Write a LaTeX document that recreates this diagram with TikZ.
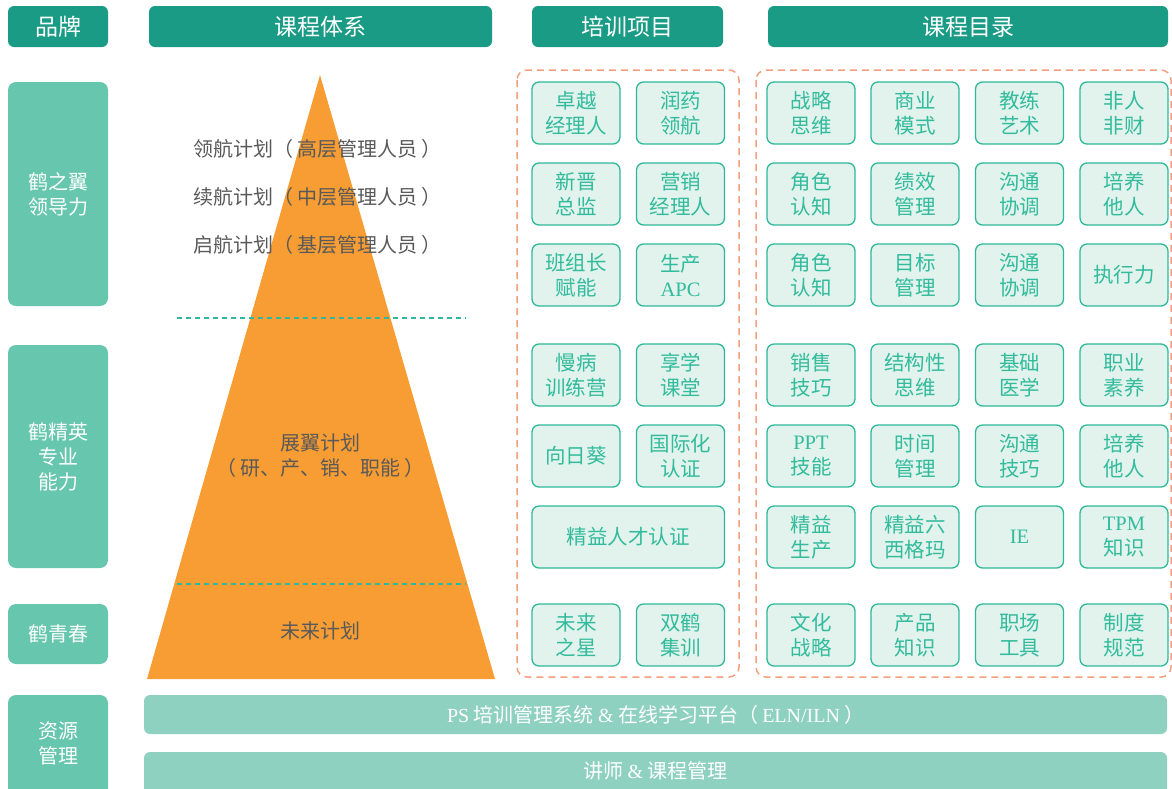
\documentclass[tikz,border=0pt]{standalone}
\usepackage{fontspec}
\setmainfont{Noto Sans CJK SC}
\newfontfamily\lat{Liberation Serif}
\definecolor{hdrc}{HTML}{1A9B85}
\definecolor{brandc}{HTML}{66C6AE}
\definecolor{barc}{HTML}{8FD1C1}
\definecolor{itemfill}{HTML}{E1F3EC}
\definecolor{itemline}{HTML}{2EB898}
\definecolor{itemtext}{HTML}{32BB9C}
\definecolor{framec}{HTML}{F2A080}
\definecolor{pyrc}{HTML}{F79D33}
\definecolor{grayt}{HTML}{595959}
\definecolor{sepc}{HTML}{2DB8A0}
\newcommand{\lp}{（\hspace{4pt}}
\newcommand{\rp}{\hspace{4pt}）}
\tikzset{
  hdr/.style={fill=hdrc, rounded corners=6pt, text=white, inner sep=0pt,
    minimum height=41pt, font=\fontsize{23}{27}\selectfont},
  brand/.style={fill=brandc, rounded corners=8pt, text=white, inner sep=0pt,
    align=center, font=\fontsize{20}{25}\selectfont},
  item/.style={fill=itemfill, draw=itemline, line width=1.3pt, rounded corners=7pt,
    text=itemtext, inner sep=0pt, minimum width=88pt, minimum height=62pt,
    align=center, font=\fontsize{20.5}{25}\selectfont},
  bar/.style={fill=barc, rounded corners=6pt, text=white, inner sep=0pt,
    font=\fontsize{20}{24}\selectfont},
  frame/.style={draw=framec, line width=1.5pt, dash pattern=on 7pt off 5pt, rounded corners=10pt},
  sep/.style={draw=sepc, line width=2pt, dash pattern=on 5pt off 4pt},
  pyrtext/.style={text=grayt, font=\fontsize{20}{25}\selectfont, align=center, inner sep=0pt}
}
\begin{document}
\begin{tikzpicture}[x=1pt,y=-1pt]
\useasboundingbox (0,0) rectangle (1172,788);
\clip (0,0) rectangle (1172,788);
% headers
\node[hdr, minimum width=100pt] (hbrand) at (58,26.5) {品牌};
\node[hdr, minimum width=343pt] (hsys) at (320.5,26.5) {课程体系};
\node[hdr, minimum width=191pt] (hproj) at (627.5,26.5) {培训项目};
\node[hdr, minimum width=400pt] (hcat) at (968,26.5) {课程目录};
% brand column
\node[brand, minimum width=100pt, minimum height=224pt] (b1) at (58,194) {鹤之翼\\领导力};
\node[brand, minimum width=100pt, minimum height=223pt] (b2) at (58,456.5) {鹤精英\\专业\\能力};
\node[brand, minimum width=100pt, minimum height=60pt] (b3) at (58,634) {鹤青春};
\node[brand, minimum width=100pt, minimum height=110pt] (b4) at (58,750) {};
\node[brand, fill=none] (b4t) at (58,743) {资源\\管理};
% pyramid
\fill[pyrc] (320,75) -- (495,679) -- (147,679) -- cycle;
\coordinate (s1a) at (177,318); \coordinate (s1b) at (466,318);
\coordinate (s2a) at (177,584); \coordinate (s2b) at (466,584);
\draw[sep] (s1a) -- (s1b);
\draw[sep] (s2a) -- (s2b);
\node[pyrtext] (p1) at (317,149) {领航计划\lp 高层管理人员\rp};
\node[pyrtext] (p2) at (317,197) {续航计划\lp 中层管理人员\rp};
\node[pyrtext] (p3) at (317,245) {启航计划\lp 基层管理人员\rp};
\node[pyrtext] (p4) at (320,456) {展翼计划\\\lp 研、产、销、职能\rp};
\node[pyrtext] (p5) at (320,631) {未来计划};
% frames
\draw[frame] (517,70) rectangle (739,677);
\draw[frame] (756,70) rectangle (1171,677);
% training items
\node[item] (t11) at (576,113) {卓越\\经理人};
\node[item] (t12) at (680.5,113) {润药\\领航};
\node[item] (t21) at (576,194) {新晋\\总监};
\node[item] (t22) at (680.5,194) {营销\\经理人};
\node[item] (t31) at (576,275) {班组长\\赋能};
\node[item] (t32) at (680.5,275) {生产\\{\lat APC}};
\node[item] (t41) at (576,375) {慢病\\训练营};
\node[item] (t42) at (680.5,375) {享学\\课堂};
\node[item] (t51) at (576,456) {向日葵};
\node[item] (t52) at (680.5,456) {国际化\\认证};
\node[item, minimum width=192.5pt] (t6) at (628.25,537) {精益人才认证};
\node[item] (t71) at (576,635) {未来\\之星};
\node[item] (t72) at (680.5,635) {双鹤\\集训};
% catalog items
\node[item] (c11) at (811,113) {战略\\思维};
\node[item] (c12) at (915,113) {商业\\模式};
\node[item] (c13) at (1019.5,113) {教练\\艺术};
\node[item] (c14) at (1124,113) {非人\\非财};
\node[item] (c21) at (811,194) {角色\\认知};
\node[item] (c22) at (915,194) {绩效\\管理};
\node[item] (c23) at (1019.5,194) {沟通\\协调};
\node[item] (c24) at (1124,194) {培养\\他人};
\node[item] (c31) at (811,275) {角色\\认知};
\node[item] (c32) at (915,275) {目标\\管理};
\node[item] (c33) at (1019.5,275) {沟通\\协调};
\node[item] (c34) at (1124,275) {执行力};
\node[item] (c41) at (811,375) {销售\\技巧};
\node[item] (c42) at (915,375) {结构性\\思维};
\node[item] (c43) at (1019.5,375) {基础\\医学};
\node[item] (c44) at (1124,375) {职业\\素养};
\node[item] (c51) at (811,456) {{\lat PPT}\\技能};
\node[item] (c52) at (915,456) {时间\\管理};
\node[item] (c53) at (1019.5,456) {沟通\\技巧};
\node[item] (c54) at (1124,456) {培养\\他人};
\node[item] (c61) at (811,537) {精益\\生产};
\node[item] (c62) at (915,537) {精益六\\西格玛};
\node[item] (c63) at (1019.5,537) {{\lat IE}};
\node[item] (c64) at (1124,537) {{\lat TPM}\\知识};
\node[item] (c71) at (811,635) {文化\\战略};
\node[item] (c72) at (915,635) {产品\\知识};
\node[item] (c73) at (1019.5,635) {职场\\工具};
\node[item] (c74) at (1124,635) {制度\\规范};
% bottom bars
\node[bar, minimum width=1023pt, minimum height=39pt] (r1) at (655.5,714.5) {{\lat PS} 培训管理系统 {\lat\&} 在线学习平台\lp{\lat ELN/ILN}\rp};
\node[bar, minimum width=1023pt, minimum height=50pt] (r2) at (655.5,777) {};
\node[text=white, font=\fontsize{20}{24}\selectfont, inner sep=0pt] (r2t) at (655.5,771) {讲师 {\lat\&} 课程管理};
\end{tikzpicture}
\end{document}
